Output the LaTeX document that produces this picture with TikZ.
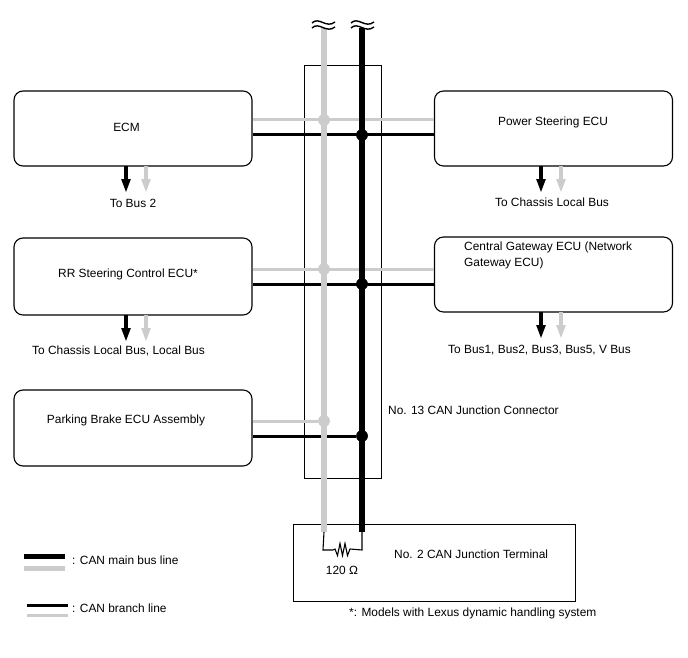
\documentclass[tikz,border=0pt]{standalone}
\usepackage{fontspec}
\setmainfont{Liberation Sans}
\usetikzlibrary{arrows.meta,positioning}

\begin{document}
\begin{tikzpicture}[
    x=1pt, y=-1pt,
    ecu/.style={draw, rounded corners=9pt, line width=1.1pt, minimum width=238pt, minimum height=75pt, inner sep=0pt},
    frm/.style={draw, line width=1pt, inner sep=0pt},
    lbl/.style={font=\fontsize{11.9}{15.8}\selectfont, inner sep=0pt},
    lblr/.style={lbl, anchor=west},
    mainblk/.style={line width=5.5pt, black},
    maingry/.style={line width=5.5pt, black!20},
    brblk/.style={line width=3pt, black},
    brgry/.style={line width=3pt, black!20},
    outblk/.style={-{Triangle[length=14pt,width=8.5pt]}, line width=4.5pt, black},
    outgry/.style={-{Triangle[length=14pt,width=8.5pt]}, line width=4.5pt, black!20},
    dotblk/.style={circle, fill=black, minimum size=11.5pt, inner sep=0pt},
    dotgry/.style={circle, fill=black!20, minimum size=11.5pt, inner sep=0pt},
    wav/.style={line width=1.4pt, black}
  ]
    \useasboundingbox (0,0) rectangle (688,658);

    %% ── junction connector frame ──
    \node[frm, minimum width=77pt, minimum height=412pt] (conn) at (342.5,272) {};
    \node[frm, minimum width=282pt, minimum height=77pt] (term) at (434,562.5) {};

    %% ── ECUs ──
    \node[ecu] (ecm) at (133,128.5) {};
    \node[ecu] (ps)  at (553.5,128.5) {};
    \node[ecu, minimum height=77pt] (rr) at (133,276.5) {};
    \node[ecu] (gw)  at (553.5,274.5) {};
    \node[ecu, minimum height=76pt] (pb) at (133,428) {};

    \node[lbl] (ecmtxt) at (126.5,127) {ECM};
    \node[lbl] (pstxt)  at (553,122) {Power Steering ECU};
    \node[lbl] (rrtxt)  at (128,274) {RR Steering Control ECU*};
    \node[lbl, align=left, anchor=north west] (gwtxt) at (464,241.5) {Central Gateway ECU (Network\\Gateway ECU)};
    \node[lbl] (pbtxt)  at (126,420) {Parking Brake ECU Assembly};

    %% ── bus ends ──
    \coordinate (gtop) at (324,28);
    \coordinate (btop) at (362,28);
    \coordinate (gbot) at (324,532);
    \coordinate (bbot) at (362,532);

    %% ── junction points ──
    \node[dotgry] (g1) at (324,120) {};
    \node[dotblk] (b1) at (362,135) {};
    \node[dotgry] (g2) at (324,269) {};
    \node[dotblk] (b2) at (362,284) {};
    \node[dotgry] (g3) at (324,421) {};
    \node[dotblk] (b3) at (362,436) {};

    %% ── branch lines ──
    \draw[brgry] (ecm.east |- g1) -- (ps.west |- g1);
    \draw[brgry] (rr.east |- g2) -- (gw.west |- g2);
    \draw[brgry] (pb.east |- g3) -- (g3);
    \draw[brblk] (ecm.east |- b1) -- (ps.west |- b1);
    \draw[brblk] (rr.east |- b2) -- (gw.west |- b2);
    \draw[brblk] (pb.east |- b3) -- (b3);

    %% ── main bus ──
    \draw[maingry] (gtop) -- (gbot);
    \draw[mainblk] (btop) -- (bbot);
    \node[dotgry] at (g1) {};
    \node[dotgry] at (g2) {};
    \node[dotgry] at (g3) {};
    \node[dotblk] at (b1) {};
    \node[dotblk] at (b2) {};
    \node[dotblk] at (b3) {};

    %% ── break marks ──
    \draw[wav] (312,23) .. controls (319,16) and (326,29) .. (335,22);
    \draw[wav] (312,28) .. controls (319,21) and (326,34) .. (335,27);
    \draw[wav] (351,23) .. controls (358,16) and (365,29) .. (374,22);
    \draw[wav] (351,28) .. controls (358,21) and (365,34) .. (374,27);

    %% ── outputs ──
    \node[lbl] (ecmout) at (133,203) {To Bus 2};
    \node[lbl] (psout)  at (552,202) {To Chassis Local Bus};
    \node[lbl] (rrout)  at (118.5,351) {To Chassis Local Bus, Local Bus};
    \node[lbl] (gwout)  at (539.5,350) {To Bus1, Bus2, Bus3, Bus5, V Bus};

    \draw[outblk] (126,166) -- (126,193);
    \draw[outgry] (146,166) -- (146,193);
    \draw[outblk] (541,166) -- (541,193);
    \draw[outgry] (561,166) -- (561,193);
    \draw[outblk] (126,315) -- (126,342);
    \draw[outgry] (146,315) -- (146,342);
    \draw[outblk] (541,312) -- (541,339);
    \draw[outgry] (561,312) -- (561,339);

    %% ── resistor ──
    \draw[line width=1.1pt, line join=miter] (gbot) -- ++(-1,18) -- ++(10,0)
      -- ++(2,-1) -- ++(2.5,6.5) -- ++(2.5,-12) -- ++(2.5,12) -- ++(2.5,-12) -- ++(2.5,12) -- ++(2.5,-6.5)
      -- (362,550) -- (bbot);
    \node[lbl] (rlbl) at (342,570) {120 Ω};

    %% ── labels ──
    \node[lblr] (conntxt) at (388,410) {No. 13 CAN Junction Connector};
    \node[lblr] (termtxt) at (394,554) {No. 2 CAN Junction Terminal};
    \node[lblr] (note)    at (349,613) {*: Models with Lexus dynamic handling system};

    %% ── legend ──
    \draw[line width=5pt, black]    (24,556) -- (65,556);
    \draw[line width=5pt, black!20] (24,568) -- (65,568);
    \draw[brblk] (27,605) -- (68,605);
    \draw[brgry] (27,615) -- (68,615);
    \node[lblr] (legmain) at (72,560) {: CAN main bus line};
    \node[lblr] (legbr)   at (72,608) {: CAN branch line};
  \end{tikzpicture}
\end{document}
